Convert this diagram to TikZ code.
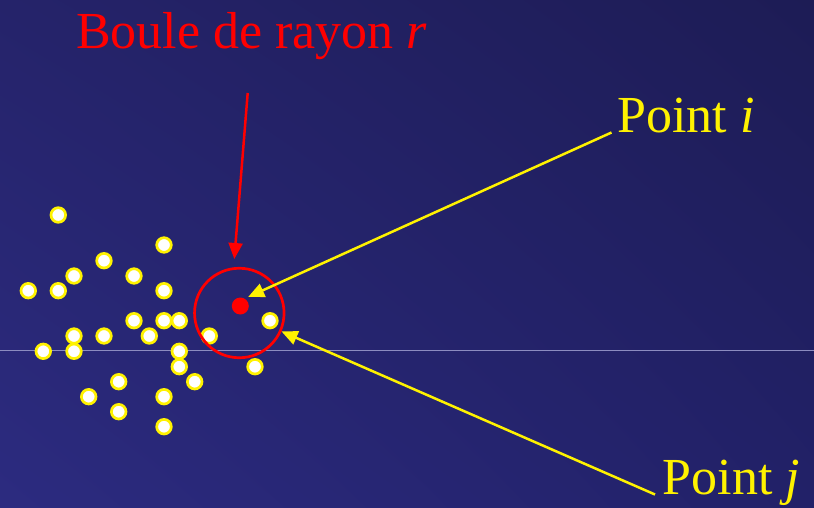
\documentclass[tikz,border=0pt]{standalone}
\usepackage{fontspec}
\setmainfont{Liberation Serif}
\usepackage{tikz}
\usetikzlibrary{arrows.meta, shapes.geometric, shadings}
\definecolor{bgTL}{HTML}{25236A}
\definecolor{bgTR}{HTML}{1D1C55}
\definecolor{bgBL}{HTML}{2C2B80}
\definecolor{bgBR}{HTML}{222168}
\definecolor{rule}{HTML}{8C8CC0}
\tikzset{
    ydot/.style={circle, draw=yellow, fill=white, line width=2.7pt, minimum size=14.6pt, inner sep=0pt},
    rdot/.style={circle, fill=red, minimum size=17pt, inner sep=0pt},
    ball/.style={circle, draw=red, line width=2.7pt, minimum size=89.5pt, inner sep=0pt},
    bigtext/.style={anchor=base west, inner sep=0pt, font=\fontsize{52}{60}\selectfont},
    rarrow/.style={draw=red, line width=2.5pt, -{Triangle[length=16pt, width=14pt]}},
    yarrow/.style={draw=yellow, line width=2.5pt, -{Triangle[length=16pt, width=14pt]}}
}
\begin{document}
\begin{tikzpicture}[x=1pt, y=-1pt]
    % Background
    \shade[upper left=bgTL, upper right=bgTR, lower left=bgBL, lower right=bgBR] (0,0) rectangle (814,508);
    \useasboundingbox (0,0) rectangle (814,508);
    \draw[rule, line width=0.8pt] (0,350) -- (814,350);

    % Cloud of points
    \foreach \x/\y [count=\i] in {58.3/215, 164/245, 104/260.7, 74/276, 134/276,
        28.3/290.7, 58.3/290.7, 164/290.7, 134/320.7, 164/320.7, 179.3/320.7,
        74/336, 104/336, 149.3/336, 209.3/336, 43.3/351.3, 74/351.3, 179.3/351.3,
        179.3/366.7, 270/320.7, 255/366.7, 118.7/381.7, 194.7/381.7, 88.7/396.7,
        164/396.7, 118.7/411.7, 164/426.7} {
        \node[ydot] (d\i) at (\x,\y) {};
    }

    % Ball and point i
    \node[ball] (ball) at (239.3,313) {};
    \node[rdot, outer sep=3.5pt] (pti) at (240.3,306) {};

    % Labels
    \node[bigtext, text=red] (boule) at (76,48.3) {Boule de rayon \textit{r}};
    \node[bigtext, text=yellow] (labi) at (617,132.5) {Point \textit{i}};
    \node[bigtext, text=yellow] (labj) at (662.5,494.5) {Point \textit{j}};

    % Arrows
    \coordinate (rtail) at (247.7,93);
    \coordinate (rtip) at (234.3,259);
    \draw[rarrow] (rtail) -- (rtip);
    \draw[yarrow] ([xshift=-5.5pt]labi.base west) -- (pti.49);
    \draw[yarrow] ([xshift=-7.5pt]labj.base west) -- (ball);
\end{tikzpicture}
\end{document}
